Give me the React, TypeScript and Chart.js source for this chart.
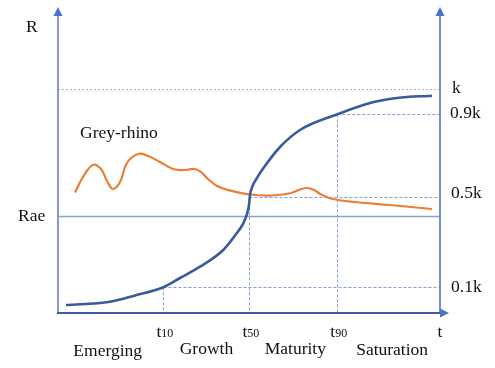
import { useEffect, useRef } from 'react';
import { Chart, registerables } from 'chart.js';

Chart.register(...registerables);

// Blue S-curve (R over time)
const sCurveT = [2.09, 13.61, 20.16, 27.57, 31.94, 37.17, 43.27, 46.78, 48.51, 49.4, 50.0, 50.26, 50.86, 52.02, 53.74, 58.12, 63.35, 73.12, 81.68, 88.74, 97.91];
const sCurveR = [2.61, 3.69, 5.72, 8.4, 11.44, 15.13, 20.59, 26.05, 29.31, 32.03, 35.29, 38.56, 41.27, 44.02, 47.29, 54.25, 59.8, 64.93, 68.63, 70.26, 71.01];

// Orange "Grey-rhino" curve
const greyT = [4.45, 6.54, 9.16, 11.26, 12.83, 14.4, 16.23, 18.06, 20.94, 23.56, 26.7, 30.1, 33.25, 35.86, 37.43, 39.27, 41.62, 44.5, 50.26, 56.02, 60.73, 63.35, 65.18, 67.02, 69.11, 71.99, 77.75, 86.91, 97.91];
const greyR = [39.38, 44.44, 48.37, 47.06, 43.14, 40.52, 42.81, 49.02, 51.96, 51.31, 49.35, 47.06, 46.73, 47.06, 46.08, 43.79, 41.5, 40.2, 38.73, 38.4, 39.12, 40.36, 40.85, 40.2, 38.56, 37.25, 36.27, 35.29, 33.99];

// Reference levels on R axis
const levelLabels = ['k', '0.9k', '0.5k', '0.1k'];
const levelValues = [73.1, 64.9, 37.8, 8.4];
const levelStartT = [0, 73.1, 50.1, 27.6];

// Reference times on t axis
const timeSubs = ['10', '50', '90'];
const timeValues = [27.6, 50.1, 73.1];
const timeTopR = [8.4, 37.8, 64.9];

const raeValue = 31.8;
const stageLabels = ['Emerging', 'Growth', 'Maturity', 'Saturation'];
const stageBounds = [0, 27.6, 50.1, 73.1, 100];

const FONT = "'Liberation Serif', 'Times New Roman', serif";
const FS = 17.5;

const guidePlugin = {
  id: 'guides',
  beforeDatasetsDraw(chart: any) {
    const { ctx, scales } = chart;
    const xs = scales.x, ys = scales.y;
    const left = xs.getPixelForValue(0);
    const right = xs.getPixelForValue(100);
    const bottom = ys.getPixelForValue(0);
    ctx.save();
    levelValues.forEach((v, i) => {
      const y = Math.round(ys.getPixelForValue(v)) + 0.5;
      ctx.beginPath();
      ctx.strokeStyle = i === 0 ? '#a9b3dc' : '#8a9dd4';
      ctx.lineWidth = 1;
      ctx.setLineDash(i === 0 ? [2, 2] : [3, 2]);
      ctx.moveTo(xs.getPixelForValue(levelStartT[i]), y);
      ctx.lineTo(right, y);
      ctx.stroke();
    });
    timeValues.forEach((v, i) => {
      const x = Math.round(xs.getPixelForValue(v)) + 0.5;
      ctx.beginPath();
      ctx.strokeStyle = '#8a9dd4';
      ctx.lineWidth = 1;
      ctx.setLineDash([3, 2]);
      ctx.moveTo(x, ys.getPixelForValue(timeTopR[i]));
      ctx.lineTo(x, bottom);
      ctx.stroke();
    });
    ctx.setLineDash([]);
    const yr = Math.round(ys.getPixelForValue(raeValue)) + 0.5;
    ctx.beginPath();
    ctx.strokeStyle = '#8d9fd6';
    ctx.lineWidth = 1.5;
    ctx.moveTo(left, yr);
    ctx.lineTo(right, yr);
    ctx.stroke();
    ctx.restore();
  },
  afterDatasetsDraw(chart: any) {
    const { ctx, scales } = chart;
    const xs = scales.x, ys = scales.y;
    const left = xs.getPixelForValue(0);
    const right = xs.getPixelForValue(100);
    const bottom = ys.getPixelForValue(0);
    const top = ys.getPixelForValue(100);
    ctx.save();
    ctx.setLineDash([]);
    ctx.lineWidth = 2;
    ctx.strokeStyle = '#8b9bd0';
    ctx.beginPath();
    ctx.moveTo(left, bottom);
    ctx.lineTo(left, top + 6);
    ctx.stroke();
    ctx.strokeStyle = '#6f8fd2';
    ctx.beginPath();
    ctx.moveTo(right, bottom);
    ctx.lineTo(right, top + 6);
    ctx.stroke();
    ctx.strokeStyle = '#3d5ca6';
    ctx.beginPath();
    ctx.moveTo(left - 1, bottom);
    ctx.lineTo(right + 3, bottom);
    ctx.stroke();
    ctx.fillStyle = '#4a74c4';
    const upArrow = (x: number) => {
      ctx.beginPath();
      ctx.moveTo(x, top);
      ctx.lineTo(x - 4.5, top + 9);
      ctx.lineTo(x + 4.5, top + 9);
      ctx.closePath();
      ctx.fill();
    };
    upArrow(left);
    upArrow(right);
    ctx.beginPath();
    ctx.moveTo(right + 9, bottom);
    ctx.lineTo(right, bottom - 4.5);
    ctx.lineTo(right, bottom + 4.5);
    ctx.closePath();
    ctx.fill();

    ctx.fillStyle = '#111';
    ctx.textBaseline = 'alphabetic';
    ctx.font = `${FS}px ${FONT}`;
    ctx.textAlign = 'left';
    ctx.fillText('R', 26, 32);
    ctx.fillText('Rae', 18, ys.getPixelForValue(raeValue) + 5.5);
    ctx.fillText('Grey-rhino', 80, 138);

    const levelOffsets = [4, 3.5, 1, 5];
    const levelX = [452, 450, 451, 451];
    levelLabels.forEach((l, i) => {
      ctx.fillText(l, levelX[i], ys.getPixelForValue(levelValues[i]) + levelOffsets[i]);
    });

    const tBase = 337;
    timeSubs.forEach((s, i) => {
      const x = xs.getPixelForValue(timeValues[i]);
      ctx.font = `${FS}px ${FONT}`;
      const tw = ctx.measureText('t').width;
      ctx.font = `12px ${FONT}`;
      const sw = ctx.measureText(s).width;
      const start = x + 1.5 - (tw + sw) / 2;
      ctx.font = `${FS}px ${FONT}`;
      ctx.fillText('t', start, tBase);
      ctx.font = `12px ${FONT}`;
      ctx.fillText(s, start + tw, tBase);
    });
    ctx.font = `${FS}px ${FONT}`;
    ctx.textAlign = 'center';
    ctx.fillText('t', right, tBase);

    const stageDx = [-3, 0, 2, 3.5];
    const stageBase = [355.5, 353.5, 353.5, 355];
    stageLabels.forEach((l, i) => {
      const mid = (stageBounds[i] + stageBounds[i + 1]) / 2;
      ctx.fillText(l, xs.getPixelForValue(mid) + stageDx[i], stageBase[i]);
    });
    ctx.restore();
  },
};

export default function App() {
  const ref = useRef<HTMLCanvasElement>(null);
  useEffect(() => {
    if (!ref.current) return;
    const chart = new Chart(ref.current, {
      type: 'line',
      data: {
        datasets: [
          {
            label: 'S-curve',
            data: sCurveT.map((t, i) => ({ x: t, y: sCurveR[i] })),
            borderColor: '#3a5a9e',
            borderWidth: 2.6,
            pointRadius: 0,
            cubicInterpolationMode: 'monotone',
            fill: false,
          },
          {
            label: 'Grey-rhino',
            data: greyT.map((t, i) => ({ x: t, y: greyR[i] })),
            borderColor: '#ea7f35',
            borderWidth: 2.2,
            pointRadius: 0,
            tension: 0.4,
            fill: false,
          },
        ],
      },
      options: {
        responsive: false,
        animation: false,
        devicePixelRatio: 1,
        layout: { padding: { left: 58, right: 55, top: 7, bottom: 55 } },
        plugins: { legend: { display: false }, tooltip: { enabled: false } },
        scales: {
          x: { type: 'linear', min: 0, max: 100, display: false },
          y: { type: 'linear', min: 0, max: 100, display: false },
        },
      },
      plugins: [guidePlugin],
    } as any);
    return () => chart.destroy();
  }, []);
  return (
    <div style={{ position: 'fixed', left: 0, top: 0, width: 495, height: 368, background: '#fff' }}>
      <canvas ref={ref} width={495} height={368} />
    </div>
  );
}
